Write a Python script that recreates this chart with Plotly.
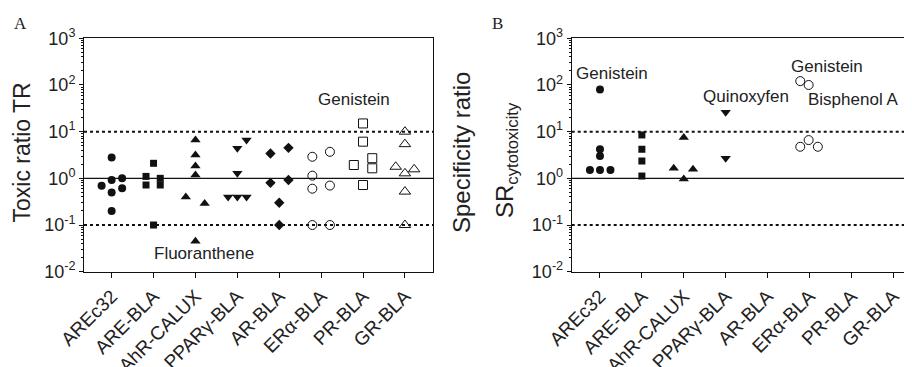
import plotly.graph_objects as go

# ---------------- data ----------------
categories = ["AREc32", "ARE-BLA", "AhR-CALUX", "PPARγ-BLA", "AR-BLA", "ERα-BLA", "PR-BLA", "GR-BLA"]
y_tickvals = [0.01, 0.1, 1, 10, 100, 1000]
y_ticktext = ["10<sup>-2</sup>", "10<sup>-1</sup>", "10<sup>0</sup>", "10<sup>1</sup>", "10<sup>2</sup>", "10<sup>3</sup>"]

# Panel A: toxic ratio TR per assay
tr_arec32 = [2.8, 0.69, 0.92, 1.0, 0.5, 0.61, 0.2]
tr_are_bla = [2.1, 1.1, 0.72, 1.0, 0.72, 0.1]
tr_ahr_calux = [6.6, 3.15, 1.83, 1.18, 0.4, 0.29, 0.045]
tr_ppar_bla = [4.4, 6.6, 1.28, 0.4, 0.4, 0.4]
tr_ar_bla = [3.4, 4.5, 0.8, 0.92, 0.3, 0.1]
tr_era_bla = [2.9, 1.14, 0.6, 0.1, 3.7, 0.7, 0.1]
tr_pr_bla = [15, 6.1, 1.93, 2.7, 1.64, 0.72]
tr_gr_bla = [10, 5.4, 1.77, 1.28, 1.56, 0.52, 0.1]

# Panel B: specificity ratio SR_cytotoxicity per assay
sr_arec32 = [80, 4.2, 3.0, 1.5, 1.5, 1.5]
sr_are_bla = [8.5, 4.2, 2.35, 1.12]
sr_ahr_calux = [7.5, 1.64, 1.56, 0.97]
sr_ppar_bla = [26, 2.7]
sr_era_bla = [121, 100, 4.75, 6.6, 4.75]

# horizontal scatter (jitter) within a category, in category units
jit_a = {
    0: [0, -0.24, 0, 0.25, 0, 0.25, 0],
    1: [0, -0.18, -0.18, 0.16, 0.16, 0],
    2: [0, 0, 0, 0, -0.23, 0.22, 0],
    3: [0, 0.22, 0, -0.22, 0, 0.22],
    4: [-0.21, 0.22, -0.21, 0.22, 0, 0],
    5: [-0.21, -0.21, -0.21, -0.21, 0.21, 0.21, 0.21],
    6: [0, 0, -0.22, 0.22, 0.22, 0],
    7: [0, 0, -0.22, 0, 0.22, 0, 0],
}
jit_b = {
    0: [0, 0, 0, -0.24, 0, 0.25],
    1: [0, 0, 0, 0],
    2: [0, -0.24, 0.22, 0],
    3: [0, 0],
    5: [-0.22, -0.02, -0.22, -0.02, 0.2],
}

INK = "#111111"
styles = {
    0: dict(symbol="circle", size=8, color=INK),
    1: dict(symbol="square", size=7, color=INK),
    2: dict(symbol="triangle-up", size=9, color=INK),
    3: dict(symbol="triangle-down", size=9, color=INK),
    4: dict(symbol="diamond", size=8, color=INK),
    5: dict(symbol="circle-open", size=9, color=INK, line=dict(width=1, color=INK)),
    6: dict(symbol="square-open", size=9, color=INK, line=dict(width=1, color=INK)),
    7: dict(symbol="triangle-up-open", size=10, color=INK, line=dict(width=1, color=INK)),
}

panel_a = {0: tr_arec32, 1: tr_are_bla, 2: tr_ahr_calux, 3: tr_ppar_bla,
           4: tr_ar_bla, 5: tr_era_bla, 6: tr_pr_bla, 7: tr_gr_bla}
panel_b = {0: sr_arec32, 1: sr_are_bla, 2: sr_ahr_calux, 3: sr_ppar_bla, 5: sr_era_bla}

fig = go.Figure()

for i, vals in panel_a.items():
    fig.add_trace(go.Scatter(
        x=[i + d for d in jit_a[i]], y=vals, mode="markers",
        marker=styles[i], xaxis="x", yaxis="y", showlegend=False, cliponaxis=False))
for i, vals in panel_b.items():
    fig.add_trace(go.Scatter(
        x=[i + d for d in jit_b[i]], y=vals, mode="markers",
        marker=styles[i], xaxis="x2", yaxis="y2", showlegend=False, cliponaxis=False))

# page body has an 8px margin: lay the figure out in page pixels minus that offset
OFF = 8
W, H = 912 - OFF, 367 - OFF

def px(x):
    return (x - OFF) / W

def py(y):
    return 1 - (y - OFF) / H

ax_a = (84, 433)
ax_b = (571.7, 912)
y_top, y_bot = 38.3, 271.7
ydom = [py(y_bot), py(y_top)]

FONT = "Liberation Sans, Arial, sans-serif"

def xaxis(domain, rng, anchor):
    return dict(domain=[px(domain[0]), min(1.0, px(domain[1]))], range=rng, anchor=anchor,
                tickmode="array", tickvals=list(range(len(categories))), ticktext=categories,
                tickangle=-45, ticks="outside", ticklen=5, tickwidth=1, tickcolor=INK,
                showline=True, linecolor=INK, linewidth=1, mirror=True,
                showgrid=False, zeroline=False, automargin=False,
                tickfont=dict(family=FONT, size=19, color="#222"))

def yaxis(anchor, mirror):
    return dict(type="log", domain=ydom, range=[-2, 3], anchor=anchor,
                tickmode="array", tickvals=y_tickvals, ticktext=y_ticktext,
                ticks="outside", ticklen=4, tickwidth=1, tickcolor=INK,
                minor=dict(ticks="outside", ticklen=2, tickcolor=INK, dtick="D1", showgrid=False),
                showline=True, linecolor=INK, linewidth=1, mirror=mirror,
                showgrid=False, zeroline=False, automargin=False,
                tickfont=dict(family=FONT, size=18, color="#222"))

xr_a = [-0.66, 7.67]
xr_b = [-0.675, -0.675 + (ax_b[1] - ax_b[0]) / 41.9]

shapes = []
for xr, yr in (("x domain", "y"), ("x2 domain", "y2")):
    shapes.append(dict(type="line", xref=xr, yref=yr, x0=0, x1=1, y0=1, y1=1,
                       line=dict(color=INK, width=1.3), layer="below"))
    for lv in (10, 0.1):
        shapes.append(dict(type="line", xref=xr, yref=yr, x0=0, x1=1, y0=lv, y1=lv,
                           line=dict(color=INK, width=2, dash="dot"), layer="below"))

ann_font = dict(family=FONT, size=17, color="#222")
serif = dict(family="Liberation Serif, Times New Roman, serif", size=17, color="#222")
C = dict(xanchor="center", yanchor="middle", showarrow=False)
annotations = [
    dict(text="Genistein", x=5.78, y=1.68, xref="x", yref="y", font=ann_font, **C),
    dict(text="Fluoranthene", x=2.21, y=-1.62, xref="x", yref="y", font=ann_font, **C),
    dict(text="Genistein", x=0.28, y=2.25, xref="x2", yref="y2", font=ann_font, **C),
    dict(text="Quinoxyfen", x=3.48, y=1.75, xref="x2", yref="y2", font=ann_font, **C),
    dict(text="Genistein", x=5.41, y=2.40, xref="x2", yref="y2", font=ann_font, **C),
    dict(text="Bisphenol A", x=6.04, y=1.68, xref="x2", yref="y2", font=ann_font, **C),
    # axis titles
    dict(text="Toxic ratio TR", x=px(22), y=py(152.5), xref="paper", yref="paper",
         textangle=-90, font=dict(family=FONT, size=23, color="#222"), **C),
    dict(text="Specificity ratio", x=px(461), y=py(153), xref="paper", yref="paper",
         textangle=-90, font=dict(family=FONT, size=24, color="#222"), **C),
    dict(text="SR<sub>cytotoxicity</sub>", x=px(506), y=py(160), xref="paper", yref="paper",
         textangle=-90, font=dict(family=FONT, size=24, color="#222"), **C),
    # panel letters
    dict(text="A", x=px(20), y=py(23), xref="paper", yref="paper", font=serif, **C),
    dict(text="B", x=px(497), y=py(23), xref="paper", yref="paper", font=serif, **C),
]

fig.update_layout(
    width=W, height=H, margin=dict(l=0, r=0, t=0, b=0),
    paper_bgcolor="white", plot_bgcolor="white", showlegend=False,
    xaxis=xaxis(ax_a, xr_a, "y"), yaxis=yaxis("x", True),
    xaxis2=xaxis(ax_b, xr_b, "y2"), yaxis2=yaxis("x2", False),
    shapes=shapes, annotations=annotations,
)

fig.write_html("out.html")
